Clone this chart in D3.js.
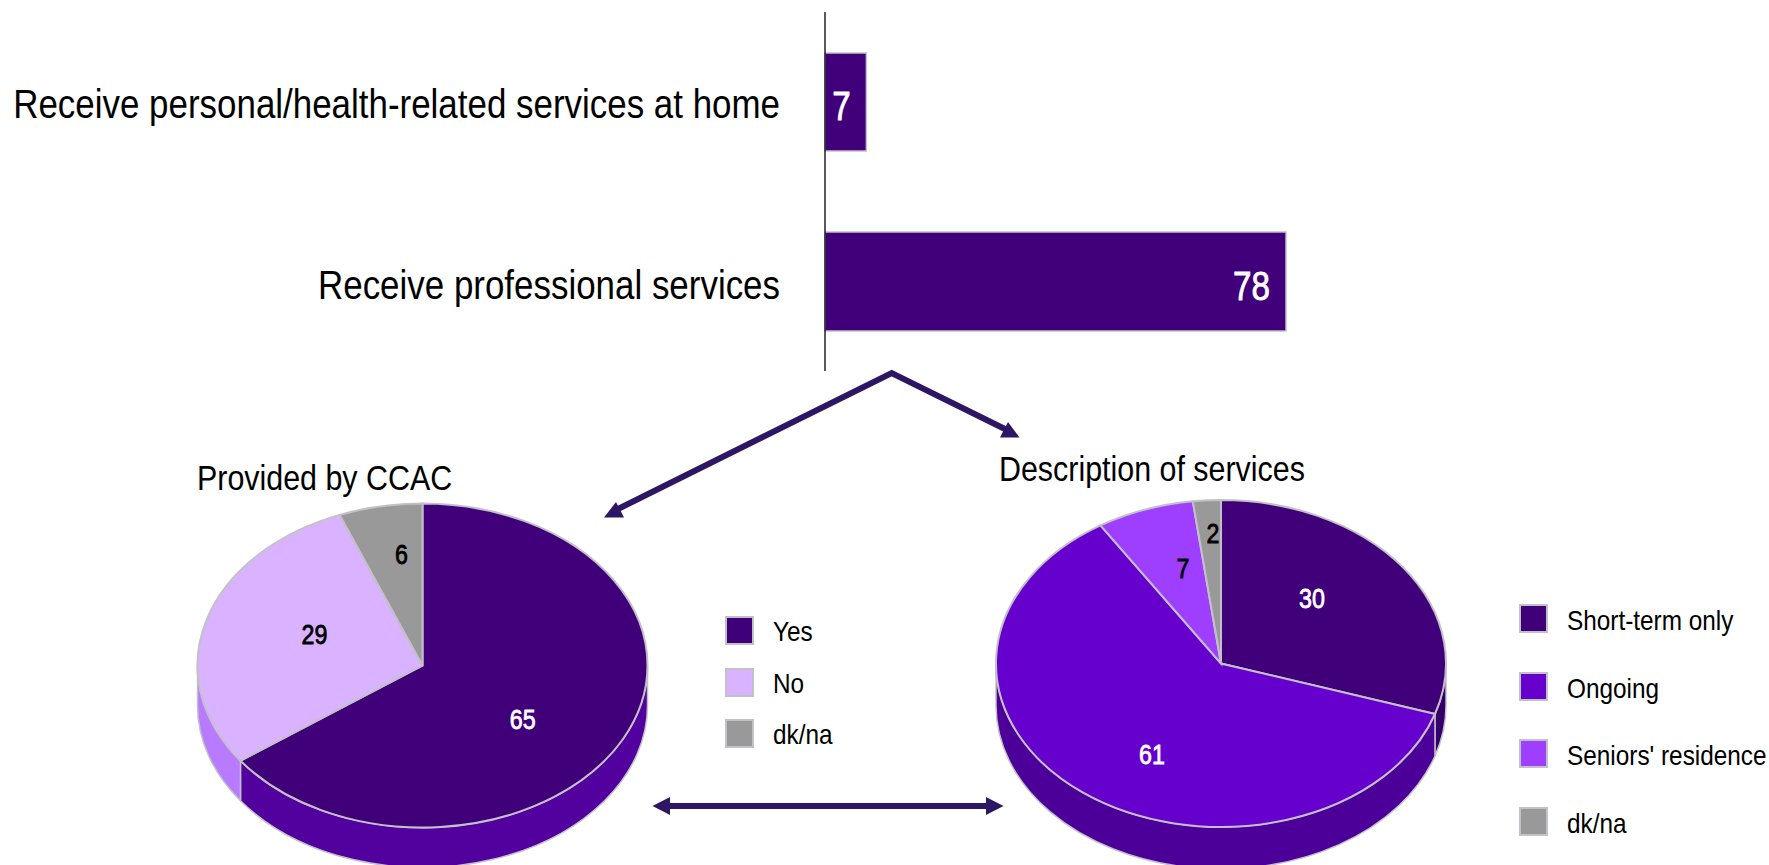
<!DOCTYPE html>
<html>
<head>
<meta charset="utf-8">
<script src="https://cdn.jsdelivr.net/npm/d3@7"></script>
<style>
html,body{margin:0;padding:0;background:#fff;overflow:hidden}
text{font-family:"Liberation Sans",Arial,sans-serif}
</style>
</head>
<body>
<svg id="c" width="1769" height="865"></svg>
<script>
const barCategories = ["Receive personal/health-related services at home", "Receive professional services"];
const barValues = [7, 78];

const pie1Title = "Provided by CCAC";
const pie1Categories = ["Yes", "No", "dk/na"];
const pie1Values = [65, 29, 6];
const pie1Colors = ["#40007a", "#d9b3ff", "#999999"];
const pie1Sides = ["#52009e", "#b87aff", "#777777"];

const pie2Title = "Description of services";
const pie2Categories = ["Short-term only", "Ongoing", "Seniors' residence", "dk/na"];
const pie2Values = [30, 61, 7, 2];
const pie2Colors = ["#40007a", "#6600cc", "#9e3fff", "#999999"];
const pie2Sides = ["#33006b", "#4d0099", "#7a26cc", "#777777"];

const svg = d3.select("#c");
const EDGE = "#c4c0c8", ARROW = "#2d1765";

// Arial-Narrow look: squeeze real text horizontally about its own anchor x
function condense(sel, factor) {
  sel.each(function () {
    const ax = +this.getAttribute("x");
    this.setAttribute("transform", `translate(${ax},0) scale(${factor},1) translate(${-ax},0)`);
  });
  return sel;
}
function valueStyle(sel, size) {
  return sel.attr("font-size", size).attr("stroke-width", 0.8).attr("paint-order", "stroke");
}

/* ---------- bar chart ---------- */
const x = d3.scaleLinear().domain([0, 78]).range([825, 1286]);

svg.selectAll("rect.bar").data(barValues).join("rect").attr("class", "bar")
  .attr("x", x(0)).attr("width", d => x(d) - x(0))
  .attr("y", (d, i) => [53, 232][i]).attr("height", (d, i) => [98, 99][i])
  .attr("fill", "#40007a").attr("stroke", EDGE).attr("stroke-width", 1.5);

svg.append("line").attr("x1", x(0)).attr("x2", x(0)).attr("y1", 12).attr("y2", 371)
  .attr("stroke", "#000").attr("stroke-width", 1.3);

svg.selectAll("text.cat").data(barCategories).join("text").attr("class", "cat")
  .attr("x", 780).attr("y", (d, i) => [118, 299][i]).attr("text-anchor", "end")
  .attr("font-size", 41).attr("fill", "#000").text(d => d).call(condense, 0.852);

svg.selectAll("text.barval").data(barValues).join("text").attr("class", "barval")
  .attr("x", (d, i) => i === 0 ? x(d) - 25 : x(d) - 16)
  .attr("y", (d, i) => [120, 300][i]).attr("text-anchor", (d, i) => i === 0 ? "middle" : "end")
  .attr("fill", "#fff").attr("stroke", "#fff").text(d => d)
  .call(valueStyle, 41).call(condense, 0.81);

/* ---------- pseudo-3D pies ---------- */
function drawPie(cfg) {
  const g = svg.append("g");
  const { cx, cy, rx, ry, depth } = cfg;
  const arcs = d3.pie().sort(null).value(d => d)(cfg.values);
  const px = a => cx + rx * Math.sin(a), py = a => cy - ry * Math.cos(a);

  // side wall: only the front half of the rim shows
  arcs.forEach((a, i) => {
    const s = Math.max(a.startAngle, Math.PI / 2), e = Math.min(a.endAngle, 3 * Math.PI / 2);
    if (e <= s) return;
    const large = e - s > Math.PI ? 1 : 0;
    const p = `M${px(s)},${py(s)}A${rx},${ry} 0 ${large} 1 ${px(e)},${py(e)}` +
              `L${px(e)},${py(e) + depth}A${rx},${ry} 0 ${large} 0 ${px(s)},${py(s) + depth}Z`;
    g.append("path").attr("d", p).attr("fill", cfg.sides[i]).attr("stroke", EDGE).attr("stroke-width", 1.5);
  });

  // top face: d3.arc squashed by a transform
  const arc = d3.arc().innerRadius(0).outerRadius(rx);
  g.append("g").attr("transform", `translate(${cx},${cy}) scale(1,${ry / rx})`)
    .selectAll("path").data(arcs).join("path")
    .attr("d", arc).attr("fill", (d, i) => cfg.colors[i])
    .attr("stroke", EDGE).attr("stroke-width", 2).attr("vector-effect", "non-scaling-stroke");

  // value labels
  const mid = d => (d.startAngle + d.endAngle) / 2;
  g.selectAll("text.v").data(arcs).join("text").attr("class", "v")
    .attr("x", (d, i) => cx + 0.5 * rx * Math.sin(mid(d)) + (cfg.nudge[i] || [0, 0])[0])
    .attr("y", (d, i) => cy - 0.7 * ry * Math.cos(mid(d)) + (cfg.nudge[i] || [0, 0])[1])
    .attr("text-anchor", "middle").attr("dominant-baseline", "central")
    .attr("fill", (d, i) => cfg.labelColors[i]).attr("stroke", (d, i) => cfg.labelColors[i])
    .text(d => d.data).call(valueStyle, 28).call(condense, 0.83);

  // title
  g.append("text").attr("x", cfg.titleX).attr("y", cfg.titleY).attr("font-size", 36).attr("fill", "#000")
    .text(cfg.title).call(condense, 0.845);

  // legend
  const lg = g.selectAll("g.l").data(cfg.categories).join("g").attr("class", "l");
  lg.append("rect").attr("x", cfg.legX).attr("y", (d, i) => cfg.legY[i]).attr("width", 27).attr("height", 27)
    .attr("fill", (d, i) => cfg.colors[i]).attr("stroke", EDGE).attr("stroke-width", 2);
  lg.append("text").attr("x", cfg.legTextX).attr("y", (d, i) => cfg.legY[i] + cfg.legBase)
    .attr("font-size", 28).attr("fill", "#000").text(d => d).call(condense, 0.87);
}

drawPie({
  cx: 422.5, cy: 665.5, rx: 225, ry: 162, depth: 40,
  values: pie1Values, colors: pie1Colors, sides: pie1Sides, categories: pie1Categories,
  labelColors: ["#fff", "#000", "#000"], nudge: [[0, 2], [0, 0], [0, 0]],
  title: pie1Title, titleX: 197, titleY: 490,
  legX: 726, legY: [617, 669, 720], legTextX: 773, legBase: 24
});
drawPie({
  cx: 1221, cy: 663.5, rx: 225, ry: 163.5, depth: 42,
  values: pie2Values, colors: pie2Colors, sides: pie2Sides, categories: pie2Categories,
  labelColors: ["#fff", "#fff", "#000", "#000"], nudge: [[0, 2], [0, 0], [0, 12], [-1, -16]],
  title: pie2Title, titleX: 999, titleY: 481,
  legX: 1520, legY: [605, 673, 740, 808], legTextX: 1567, legBase: 25
});

/* ---------- connector arrows ---------- */
const line = d3.line();
const arrowLines = [
  [[616, 510], [891.7, 373], [1009, 431]],
  [[665, 806], [990, 806]]
];
svg.selectAll("path.arrowline").data(arrowLines).join("path").attr("class", "arrowline")
  .attr("d", line).attr("fill", "none").attr("stroke", ARROW)
  .attr("stroke-width", 6).attr("stroke-linejoin", "miter");
const arrowHeads = [
  [[604, 517.5], [624, 517.5], [616, 502]],
  [[1000, 437.5], [1019.5, 437.5], [1008, 422]],
  [[652.5, 806], [670, 797], [670, 815]],
  [[1003.5, 806], [986, 797], [986, 815]]
];
svg.selectAll("path.arrowhead").data(arrowHeads).join("path").attr("class", "arrowhead")
  .attr("d", d => line(d) + "Z").attr("fill", ARROW);
</script>
</body>
</html>
